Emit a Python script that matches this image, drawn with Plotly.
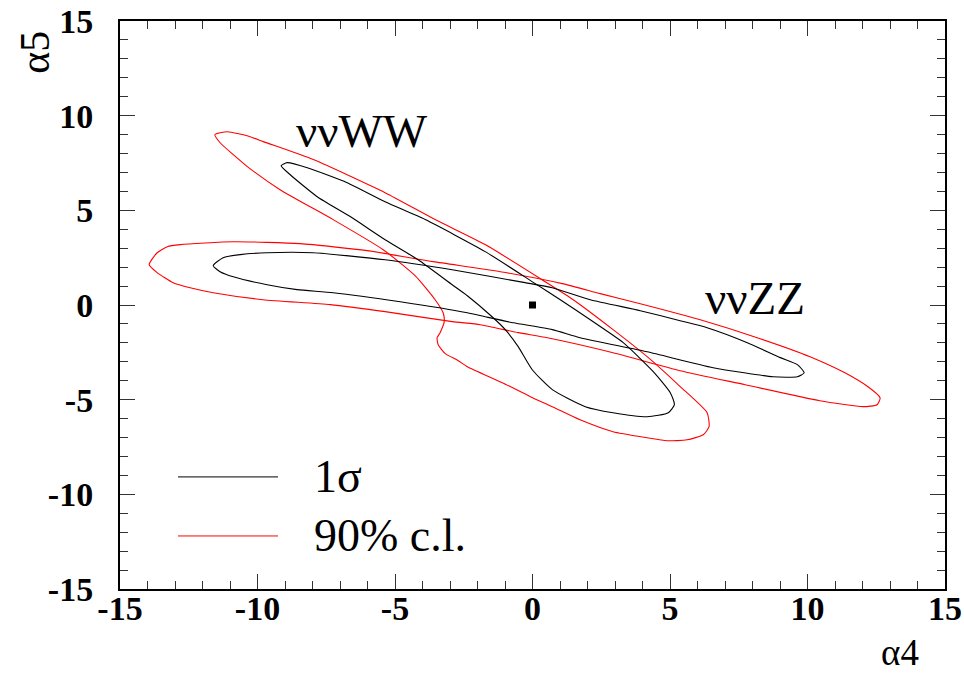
import plotly.graph_objects as go

# ---- contour data (alpha4, alpha5) ----
ww_1s_a4 = [-9.14, -8.92, -8.19, -6.74, -5.36, -3.90, -1.72, 0.10, 1.01, 2.10, 3.30, 4.39, 5.01, 5.16,
            4.94, 4.17, 2.93, 1.92, 0.72, -0.01, -0.52, -0.99, -1.47, -2.37, -2.92, -4.16, -5.36, -6.63, -7.83, -8.81]
ww_1s_a5 = [7.36, 7.52, 7.25, 6.46, 5.45, 4.51, 2.82, 1.13, 0.28, -0.78, -1.99, -3.52, -4.63, -5.26,
            -5.69, -5.90, -5.69, -5.37, -4.47, -3.42, -2.20, -1.30, -0.62, 0.49, 1.07, 2.39, 3.45, 4.67, 5.72, 6.88]

ww_90_a4 = [-11.55, -11.10, -10.27, -9.79, -7.97, -5.36, -3.54, -1.72, 0.46, 1.48, 2.93, 4.17, 5.37, 6.35, 6.42,
            6.21, 5.62, 4.89, 4.17, 2.93, 1.73, 0.72, -0.08, -1.10, -2.37, -2.70, -3.17, -3.43, -3.47, -3.36, -3.21,
            -3.25, -3.54, -4.27, -5.43, -7.25, -9.18, -10.37, -10.88, -11.36]
ww_90_a5 = [9.00, 9.15, 8.89, 8.63, 7.68, 5.93, 4.51, 3.19, 1.23, 0.28, -1.30, -2.73, -4.31, -5.69, -6.43,
            -6.85, -7.12, -7.17, -7.01, -6.69, -6.06, -5.37, -4.84, -4.10, -3.26, -2.94, -2.57, -2.10, -1.73, -1.46, -0.88,
            -0.41, 0.28, 1.55, 2.92, 4.51, 6.09, 7.31, 7.94, 8.57]

zz_1s_a4 = [-11.61, -11.25, -10.63, -9.65, -7.98, -5.36, -2.92, -0.27, 0.72, 2.10, 3.92, 5.37, 6.35, 7.81, 9.01, 9.63, 9.88,
            9.63, 8.75, 6.57, 4.17, 1.73, 0.72, -0.70, -1.72, -2.37, -4.81, -7.25, -8.56, -9.65, -10.88, -11.36]
zz_1s_a5 = [2.08, 2.50, 2.66, 2.76, 2.76, 2.39, 1.86, 1.18, 0.91, 0.28, -0.30, -0.83, -1.20, -1.99, -2.78, -3.15, -3.58,
            -3.79, -3.79, -3.31, -2.47, -1.73, -1.30, -0.94, -0.62, -0.41, 0.17, 0.65, 0.81, 1.07, 1.49, 1.76]

zz_90_a4 = [-13.94, -13.65, -13.28, -12.81, -10.88, -8.45, -6.01, -3.61, -1.17, 1.08, 2.46, 3.92, 6.10, 8.28, 10.09, 11.36,
            12.20, 12.64, 12.53, 12.02, 10.45, 7.73, 5.37, 2.93, 0.54, -0.52, -1.90, -2.92, -5.36, -7.36, -9.80, -11.61,
            -12.45, -13.07, -13.65]
zz_90_a5 = [2.13, 2.76, 3.08, 3.19, 3.34, 3.24, 2.87, 2.29, 1.76, 1.13, 0.60, 0.07, -0.78, -1.78, -2.73, -3.58,
            -4.32, -4.90, -5.27, -5.37, -5.06, -4.21, -3.47, -2.52, -1.73, -1.46, -1.04, -0.88, -0.35, 0.02, 0.28, 0.65,
            0.91, 1.18, 1.71]

best_fit_a4 = [0.0]
best_fit_a5 = [0.0]

tick_vals = [-15, -10, -5, 0, 5, 10, 15]
tick_text = ["-15", "-10", "-5", "0", "5", "10", "15"]

legend_labels = ["1\u03c3", "90% c.l."]
annot_ww = "\u03bd\u03bdWW"
annot_zz = "\u03bd\u03bdZZ"

SERIF = "Liberation Serif, Times New Roman, serif"


def closed(xs, ys):
    k = len(xs) // 4
    xs2 = xs[k:] + xs[:k]
    ys2 = ys[k:] + ys[:k]
    return xs2 + [xs2[0]], ys2 + [ys2[0]]


fig = go.Figure()
for xs, ys, col in [(ww_90_a4, ww_90_a5, "#ff0000"), (zz_90_a4, zz_90_a5, "#ff0000"),
                    (ww_1s_a4, ww_1s_a5, "#000000"), (zz_1s_a4, zz_1s_a5, "#000000")]:
    cx, cy = closed(xs, ys)
    fig.add_trace(go.Scatter(x=cx, y=cy, mode="lines",
                             line=dict(color=col, width=1.1, shape="spline", smoothing=0.55),
                             showlegend=False, hoverinfo="skip"))

fig.add_trace(go.Scatter(x=best_fit_a4, y=best_fit_a5, mode="markers",
                         marker=dict(symbol="square", size=7, color="black"),
                         showlegend=False))

tickfont = dict(family=SERIF, size=34, color="black", weight="bold")
axis_common = dict(range=[-15, 15], showgrid=False, zeroline=False, showline=True, linecolor="black",
                   linewidth=2, mirror="allticks", ticks="inside", ticklen=15, tickwidth=1, tickcolor="#333",
                   tickvals=tick_vals, ticktext=tick_text, tickfont=tickfont, automargin=False,
                   minor=dict(ticks="inside", ticklen=8, tickwidth=1, tickcolor="#333", dtick=1, showgrid=False))

fig.update_xaxes(**axis_common, ticklabelstandoff=-12)
fig.update_yaxes(**axis_common, ticklabelstandoff=18)

# axis titles
fig.add_annotation(text="\u03b14", xref="paper", yref="paper", x=0.945, y=-0.111, showarrow=False,
                   xanchor="center", yanchor="middle",
                   font=dict(family=SERIF, size=37, color="black"))
fig.add_annotation(text="\u03b15", xref="paper", yref="paper", x=-0.103, y=0.944, showarrow=False,
                   xanchor="center", yanchor="middle", textangle=-90,
                   font=dict(family=SERIF, size=42, color="black"))

# labels
fig.add_annotation(text=annot_ww, x=-6.19, y=9.21, showarrow=False,
                   font=dict(family=SERIF, size=47, color="black"))
fig.add_annotation(text=annot_zz, x=8.09, y=0.39, showarrow=False,
                   font=dict(family=SERIF, size=47, color="black"))

# legend (drawn manually)
leg_rows = [(477, "#000000"), (536, "#ff0000")]
for (py, col), lab in zip(leg_rows, legend_labels):
    yp = (589 - py) / 567.6
    fig.add_shape(type="line", xref="paper", yref="paper", x0=(178 - 120) / 825, x1=(278 - 120) / 825,
                  y0=yp, y1=yp, line=dict(color=col, width=1))
    fig.add_annotation(text=lab, xref="paper", yref="paper", x=(312 - 120) / 825, y=yp, xanchor="left",
                       yanchor="middle", showarrow=False, font=dict(family=SERIF, size=46, color="black"))

fig.update_layout(width=964, height=675, margin=dict(l=120, r=19, t=21, b=86),
                  plot_bgcolor="white", paper_bgcolor="white")

fig.write_html("out.html")
